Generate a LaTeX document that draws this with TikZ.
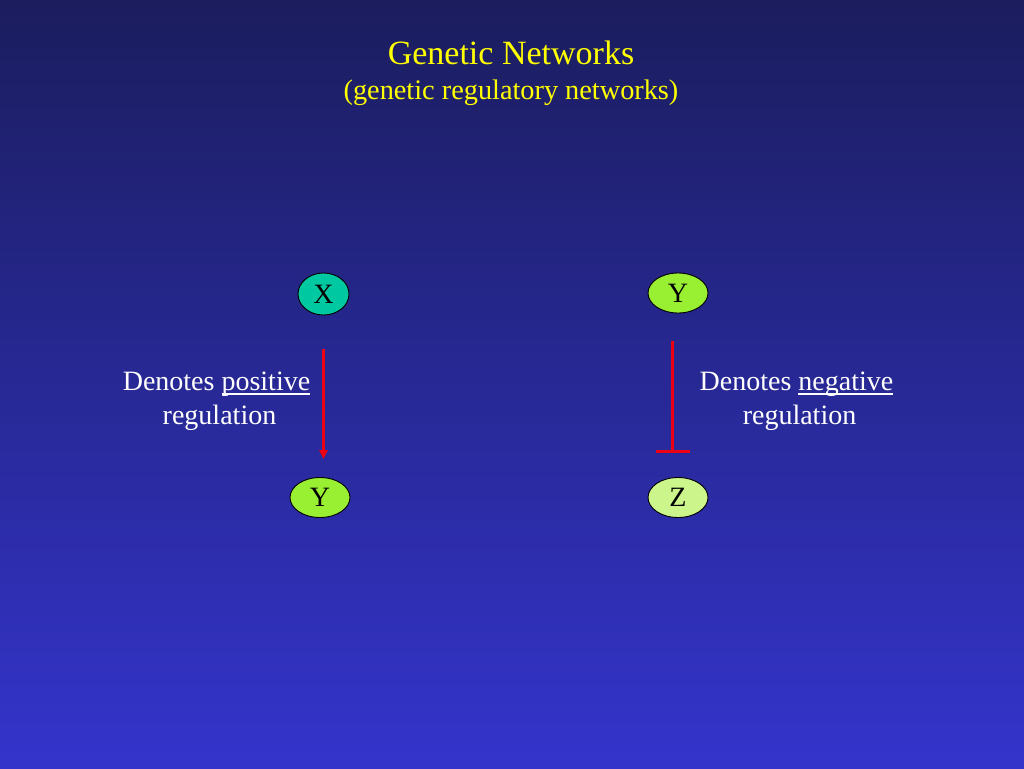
\documentclass[tikz,border=0pt]{standalone}
\usepackage{fontspec}
\setmainfont{Liberation Serif}
\usetikzlibrary{shapes.geometric,arrows.meta}
\definecolor{bgtop}{RGB}{27,29,94}
\definecolor{bgbot}{RGB}{52,52,204}
\definecolor{titley}{RGB}{255,255,0}
\definecolor{xfill}{RGB}{0,200,160}
\definecolor{yfill}{RGB}{153,240,51}
\definecolor{zfill}{RGB}{204,245,140}
\definecolor{regred}{RGB}{235,0,20}
\newcommand{\myul}[1]{\setbox0\hbox{#1}\rlap{\rule[-4.5pt]{\wd0}{1.1pt}}\box0}
\tikzset{
  gene/.style={ellipse, draw=black, line width=0.9pt, inner sep=0pt,
    minimum width=60pt, minimum height=40pt, font=\fontsize{28}{30}\selectfont, text=black},
  lbl/.style={text=white, font=\fontsize{28}{30}\selectfont, anchor=base, inner sep=0pt},
  ttl/.style={text=titley, anchor=base, inner sep=0pt},
  regline/.style={draw=regred, line width=2.6pt}
}
\begin{document}
\begin{tikzpicture}[x=1pt,y=-1pt]
\shade[top color=bgtop, bottom color=bgbot] (0,0) rectangle (1024,768);
\useasboundingbox (0,0) rectangle (1024,768);
\node[ttl, font=\fontsize{34}{36}\selectfont] (title) at (511,64) {Genetic Networks};
\node[ttl, font=\fontsize{28.3}{30}\selectfont] (sub) at (511,99) {(genetic regulatory networks)};

\node[gene, fill=xfill, minimum width=51pt, minimum height=42pt] (X) at (323.5,294) {X};
\node[gene, fill=yfill] (Y1) at (320,497.5) {Y};
\node[gene, fill=yfill] (Y2) at (678,293) {Y};
\node[gene, fill=zfill] (Z) at (678,497.5) {Z};

\draw[regline, -{Triangle[length=9pt,width=8pt]}, shorten <=34pt, shorten >=18pt]
  (X.south) -- (X.south |- Y1.north);
\coordinate (nstart) at ([xshift=-5.5pt,yshift=-28pt]Y2.south);
\coordinate (nend) at ([xshift=-5.5pt,yshift=26pt]Y2.south |- Z.north);
\draw[regline, line width=3pt] (nstart) -- (nend);
\draw[regline, line width=3pt] ([xshift=-17pt]nend) -- ([xshift=17pt]nend);

\node[lbl] (pos1) at (216.5,390) {Denotes \myul{positive}};
\node[lbl] (pos2) at (219.5,424) {regulation};
\node[lbl] (neg1) at (796.5,390) {Denotes \myul{negative}};
\node[lbl] (neg2) at (799.5,424) {regulation};
\end{tikzpicture}
\end{document}
